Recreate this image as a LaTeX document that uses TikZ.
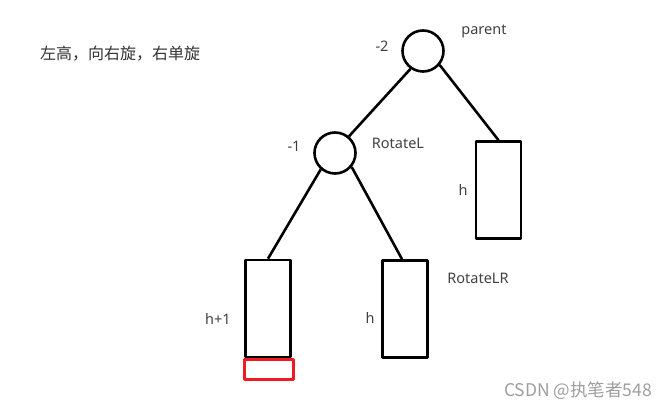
\documentclass[tikz,border=0pt]{standalone}
\usepackage{fontspec}
\setmainfont{Noto Sans}
\newfontfamily\cjk{Noto Sans CJK SC}
\definecolor{paintred}{RGB}{237,28,36}
\begin{document}
\begin{tikzpicture}[x=1pt,y=-1pt,line join=round,
        ball/.style={draw,circle,line width=2.6pt,minimum size=41pt,inner sep=0pt},
        subtree/.style={draw,rectangle,line width=2.6pt,minimum width=45pt,minimum height=97pt,inner sep=0pt},
        lab/.style={text=black!75,font=\fontsize{14.5}{16}\selectfont,inner sep=0pt},
        edge/.style={line width=2.6pt}]
            \useasboundingbox (0,0) rectangle (669,411);
            % nodes of the tree
            \node[ball] (parent) at (423,51) {};
            \node[ball] (rotL) at (335,153) {};
            \node[subtree] (hR) at (498.5,190) {};
            \node[subtree] (hL) at (268,308.5) {};
            \node[subtree] (hM) at (405,309) {};
            \node[draw=paintred,line width=2.8pt,minimum width=49pt,minimum height=20pt,inner sep=0pt] (extra) at (269,369.5) {};
            % edges
            \draw[edge] (parent.235)--(rotL.50);
            \draw[edge] (parent.-40)--(hR.north);
            \draw[edge] (rotL.229)--(hL.north);
            \draw[edge] (rotL.-40)--([xshift=-3pt]hM.north);
            % labels
            \node[lab] (bfP) at (382,46) {-2};
            \node[lab] (nameP) at (484,31) {parent};
            \node[lab] (bfL) at (294,146) {-1};
            \node[lab] (nameL) at (398,143) {RotateL};
            \node[lab] (heightR) at (463,190) {h};
            \node[lab] (heightL) at (218,319) {h+1};
            \node[lab] (heightM) at (370,318) {h};
            \node[lab] (nameLR) at (478,278) {RotateLR};
            \node[text=black!80,font=\cjk\fontsize{16}{18}\selectfont,inner sep=0pt] (note) at (120,54) {左高，向右旋，右单旋};
            \node[text=black!38,font=\cjk\fontsize{17.5}{19}\selectfont,inner sep=0pt] (mark) at (578,391) {CSDN @执笔者548};
        \end{tikzpicture}
\end{document}
